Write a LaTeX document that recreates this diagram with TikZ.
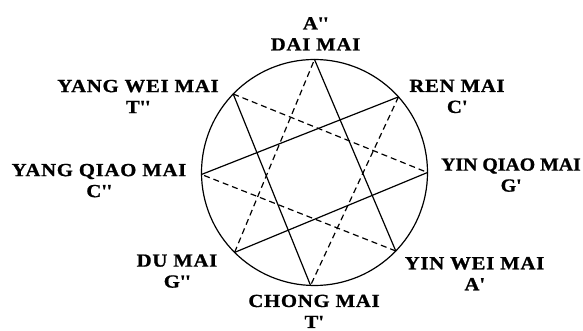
\documentclass[tikz,border=0pt]{standalone}
\usepackage{fontspec}
\newfontfamily\mailabelfont{Liberation Serif}[FakeStretch=1.12, LetterSpace=4, BoldFeatures={FakeBold=1}]
\newfontfamily\mailabeltightfont{Liberation Serif}[FakeStretch=1.07, BoldFeatures={FakeBold=1}]
\begin{document}
\begin{tikzpicture}[x=1pt, y=1pt]
% Eight extraordinary vessels on one circle
\def\circr{113}
\providecommand{\maiLineWidth}{1.2pt}
\tikzset{
  mailabel/.style={font=\mailabelfont\bfseries\fontsize{18.5}{21}\selectfont, align=center, inner sep=0pt, anchor=south},
  mailabeltight/.style={mailabel, font=\mailabeltightfont\bfseries\fontsize{18.5}{21}\selectfont},
  chordsolid/.style={line width=\maiLineWidth},
  chorddash/.style={line width=\maiLineWidth, dash pattern=on 6pt off 4pt}
}
\useasboundingbox (0,0) rectangle (583,331);
\coordinate (ctr) at (314.5,158.5);
% Circle
\draw[line width=\maiLineWidth] (ctr) circle (\circr);
% Points on the circle
\path (ctr) ++(90:\circr) coordinate (pdai);
\path (ctr) ++(42:\circr) coordinate (pren);
\path (ctr) ++(0:\circr) coordinate (pyinqiao);
\path (ctr) ++(-44:\circr) coordinate (pyinwei);
\path (ctr) ++(-92:\circr) coordinate (pchong);
\path (ctr) ++(-135:\circr) coordinate (pdu);
\path (ctr) ++(181:\circr) coordinate (pyangqiao);
\path (ctr) ++(136:\circr) coordinate (pyangwei);
% Solid chords
\begin{scope}[chordsolid, line cap=round]
  \draw (pdai) -- (pyinwei);
  \draw (pyinqiao) -- (pdu);
  \draw (pchong) -- (pyangwei);
  \draw (pyangqiao) -- (pren);
\end{scope}
% Dashed chords
\begin{scope}[chorddash]
  \draw (pren) -- (pchong);
  \draw (pyinwei) -- (pyangqiao);
  \draw (pdu) -- (pdai);
  \draw (pyangwei) -- (pyinqiao);
\end{scope}
% Labels (anchored at the baseline of their last line)
\node[mailabel] (daimai) at (315.5,280.3) {A\textquotesingle\textquotesingle\\DAI MAI};
\node[mailabel] (renmai) at (457,217.7) {REN MAI\\C\textquotesingle};
\node[mailabeltight] (yinqiaomai) at (511,139) {YIN QIAO MAI\\G\textquotesingle};
\node[mailabel] (yinweimai) at (474.5,40.5) {YIN WEI MAI\\A\textquotesingle};
\node[mailabel] (chongmai) at (314,2.8) {CHONG MAI\\T\textquotesingle};
\node[mailabel] (dumai) at (177,43) {DU MAI\\G\textquotesingle\textquotesingle};
\node[mailabel] (yangqiaomai) at (99,133.5) {YANG QIAO MAI\\C\textquotesingle\textquotesingle};
\node[mailabel] (yangweimai) at (138,217.7) {YANG WEI MAI\\T\textquotesingle\textquotesingle};
\end{tikzpicture}
\end{document}
